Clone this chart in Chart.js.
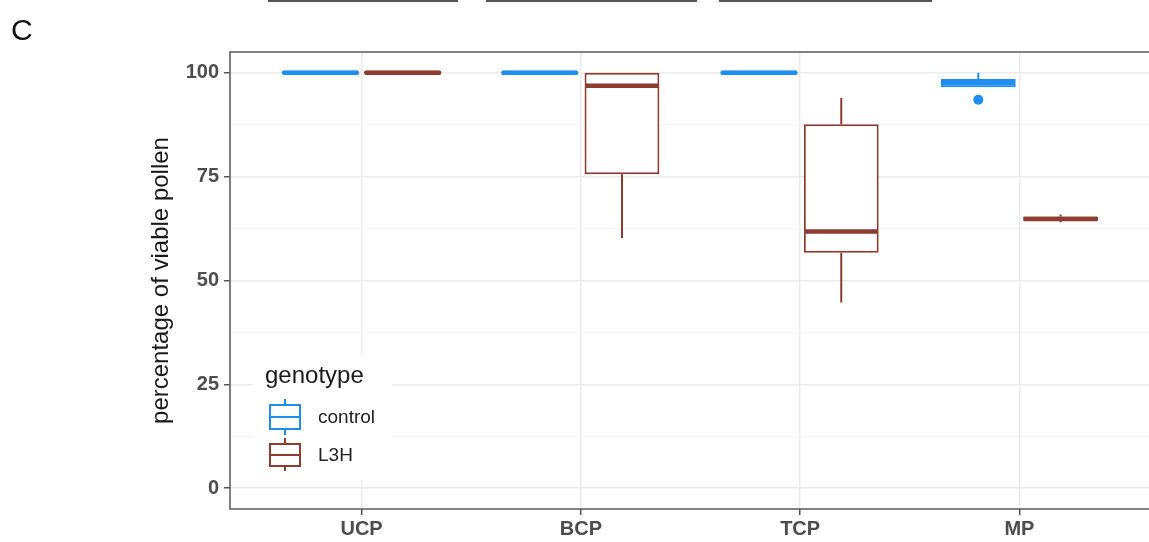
<!DOCTYPE html>
<html>
<head>
<meta charset="utf-8">
<script src="https://cdn.jsdelivr.net/npm/chart.js@4.4.1/dist/chart.umd.min.js"></script>
<style>
  html, body { margin: 0; padding: 0; background: #ffffff; overflow: hidden; width: 1149px; height: 542px; }
  #wrap { position: absolute; left: 0; top: 0; width: 1149px; height: 542px; overflow: hidden; }
  canvas { position: absolute; left: 0; top: 0; }
  #panelLabel { position: absolute; left: 11px; top: 13px; font-family: "Liberation Sans", Arial, sans-serif; font-size: 30px; color: #111; }
  .topline { position: absolute; top: 0px; height: 2px; background: #555; }
</style>
</head>
<body>
<div id="wrap">
  <canvas id="c" width="1160" height="542"></canvas>
  <div id="panelLabel">C</div>
  <div class="topline" style="left:268px;width:190px"></div>
  <div class="topline" style="left:486px;width:211px"></div>
  <div class="topline" style="left:719px;width:213px"></div>
</div>
<script>
// ---------- data ----------
const categories = ['UCP', 'BCP', 'TCP', 'MP'];
const seriesNames = ['control', 'L3H'];

const controlMin    = [100, 100, 100, 96.5];
const controlQ1     = [100, 100, 100, 96.5];
const controlMedian = [100, 100, 100, 97.5];
const controlQ3     = [100, 100, 100, 98.5];
const controlMax    = [100, 100, 100, 100];
const controlOutliers = [[], [], [], [93.5]];

const l3hMin    = [100, 60.2, 44.7, 64.0];
const l3hQ1     = [100, 75.6, 56.7, 64.3];
const l3hMedian = [100, 96.9, 61.8, 64.8];
const l3hQ3     = [100, 100, 87.6, 65.4];
const l3hMax    = [100, 100, 93.9, 65.9];
const l3hOutliers = [[], [], [], []];

const yMajorTicks = [0, 25, 50, 75, 100];
const yMinorTicks = [12.5, 37.5, 62.5, 87.5];

// ---------- styles ----------
const BLUE = '#1F8EF1';
const BROWN = '#8E3B30';
const FONT = '"Liberation Sans", Arial, Helvetica, sans-serif';

function boxData(q1, q3) {
  return categories.map((c, i) => ({ x: i + 1, y: [q1[i], q3[i]] }));
}

const boxExtras = {
  id: 'boxExtras',
  afterDatasetsDraw(chart) {
    const ctx = chart.ctx;
    const ys = chart.scales.y;
    const area = chart.chartArea;
    ctx.save();
    ctx.beginPath();
    ctx.rect(area.left, area.top, area.right - area.left, area.bottom - area.top);
    ctx.clip();
    chart.data.datasets.forEach((ds, d) => {
      const meta = chart.getDatasetMeta(d);
      meta.data.forEach((el, i) => {
        const x = el.x, w = el.width;
        const pq1 = ys.getPixelForValue(ds.q1[i]);
        const pq3 = ys.getPixelForValue(ds.q3[i]);
        const pmin = ys.getPixelForValue(ds.whiskLow[i]);
        const pmax = ys.getPixelForValue(ds.whiskHigh[i]);
        const pmed = ys.getPixelForValue(ds.median[i]);
        ctx.strokeStyle = ds.borderColor;
        ctx.lineCap = 'butt';
        // whiskers
        ctx.lineWidth = 2;
        ctx.beginPath();
        if (pmax < pq3 - 0.5) { ctx.moveTo(x, pq3); ctx.lineTo(x, pmax); }
        if (pmin > pq1 + 0.5) { ctx.moveTo(x, pq1); ctx.lineTo(x, pmin); }
        ctx.stroke();
        // box outline for degenerate boxes
        if (Math.abs(pq1 - pq3) < 2) {
          ctx.lineWidth = 2;
          ctx.strokeRect(x - w / 2 + 1, pq3 - 1, w - 2, Math.max(pq1 - pq3, 0) + 2);
        }
        // median
        ctx.lineWidth = 4.5;
        ctx.lineCap = Math.abs(pq1 - pq3) < 2 ? 'round' : 'butt';
        ctx.beginPath();
        ctx.moveTo(x - w / 2 + 1, pmed);
        ctx.lineTo(x + w / 2 - 1, pmed);
        ctx.stroke();
        // outliers
        ctx.fillStyle = ds.borderColor;
        (ds.outliers[i] || []).forEach(v => {
          ctx.beginPath();
          ctx.arc(x, ys.getPixelForValue(v), 5, 0, Math.PI * 2);
          ctx.fill();
        });
      });
    });
    ctx.restore();
    // panel border
    ctx.save();
    ctx.strokeStyle = '#5a5a5a';
    ctx.lineWidth = 1.5;
    ctx.strokeRect(area.left, area.top, area.right - area.left, area.bottom - area.top);
    ctx.restore();
  },
  afterDraw(chart) {
    const ctx = chart.ctx;
    ctx.save();
    ctx.fillStyle = '#ffffff';
    ctx.fillRect(252, 354, 140, 126);
    ctx.fillStyle = '#1a1a1a';
    ctx.font = '24px ' + FONT;
    ctx.textBaseline = 'alphabetic';
    ctx.textAlign = 'left';
    ctx.fillText('genotype', 265, 383);
    const keys = [
      { top: 405, bot: 429, med: 417, wt: 399, wb: 435 },
      { top: 444, bot: 466, med: 455, wt: 438, wb: 471 }
    ];
    chart.data.datasets.forEach((ds, d) => {
      const k = keys[d];
      ctx.strokeStyle = ds.borderColor;
      ctx.lineWidth = 2;
      ctx.beginPath();
      ctx.moveTo(285, k.wt); ctx.lineTo(285, k.top);
      ctx.moveTo(285, k.bot); ctx.lineTo(285, k.wb);
      ctx.moveTo(270, k.med); ctx.lineTo(300, k.med);
      ctx.stroke();
      ctx.strokeRect(270, k.top, 30, k.bot - k.top);
      ctx.fillStyle = '#222';
      ctx.font = '19px ' + FONT;
      ctx.textBaseline = 'middle';
      ctx.fillText(ds.label, 318, k.med + 1);
    });
    ctx.restore();
  }
};

new Chart(document.getElementById('c'), {
  type: 'bar',
  data: {
    datasets: [
      {
        label: seriesNames[0],
        data: boxData(controlQ1, controlQ3),
        q1: controlQ1, q3: controlQ3, median: controlMedian,
        whiskLow: controlMin, whiskHigh: controlMax, outliers: controlOutliers,
        backgroundColor: '#ffffff', borderColor: BLUE, borderWidth: 2, borderSkipped: false
      },
      {
        label: seriesNames[1],
        data: boxData(l3hQ1, l3hQ3),
        q1: l3hQ1, q3: l3hQ3, median: l3hMedian,
        whiskLow: l3hMin, whiskHigh: l3hMax, outliers: l3hOutliers,
        backgroundColor: '#ffffff', borderColor: BROWN, borderWidth: 2, borderSkipped: false
      }
    ]
  },
  options: {
    responsive: false,
    animation: false,
    devicePixelRatio: 1,
    categoryPercentage: 0.75,
    barPercentage: 0.91,
    layout: { padding: { top: 52, right: 9, bottom: 0, left: 0 } },
    plugins: { legend: { display: false }, tooltip: { enabled: false } },
    scales: {
      x: {
        type: 'linear',
        min: 0.4, max: 4.6,
        offset: false,
        afterBuildTicks(scale) { scale.ticks = categories.map((c, i) => ({ value: i + 1 })); },
        afterFit(scale) { scale.height = 33; },
        border: { display: false },
        grid: { offset: false, color: '#ebebeb', lineWidth: 1.5, tickLength: 6, tickColor: '#555', tickWidth: 1.5 },
        ticks: {
          padding: 2,
          color: '#4d4d4d',
          font: { family: FONT, size: 20, weight: 'bold' },
          callback: (v) => categories[Math.round(v) - 1] || ''
        }
      },
      y: {
        min: -5, max: 105,
        afterBuildTicks(scale) {
          scale.ticks = yMajorTicks.concat(yMinorTicks).sort((a, b) => a - b).map(v => ({ value: v }));
        },
        afterFit(scale) { scale.width = 230; },
        border: { display: false },
        grid: {
          color: (c) => (yMajorTicks.includes(c.tick.value) ? '#ebebeb' : '#f4f4f4'),
          lineWidth: (c) => (yMajorTicks.includes(c.tick.value) ? 1.5 : 1),
          tickLength: 6,
          tickWidth: 1.5,
          tickColor: (c) => (yMajorTicks.includes(c.tick.value) ? '#555' : 'rgba(0,0,0,0)')
        },
        ticks: {
          padding: 5,
          color: '#4d4d4d',
          font: { family: FONT, size: 20, weight: 'bold' },
          callback: (v) => (yMajorTicks.includes(v) ? String(v) : '')
        },
        title: {
          display: true,
          text: 'percentage of viable pollen',
          color: '#1a1a1a',
          font: { family: FONT, size: 24 },
          padding: { top: 147, bottom: 0 }
        }
      }
    }
  },
  plugins: [boxExtras]
});
</script>
</body>
</html>
